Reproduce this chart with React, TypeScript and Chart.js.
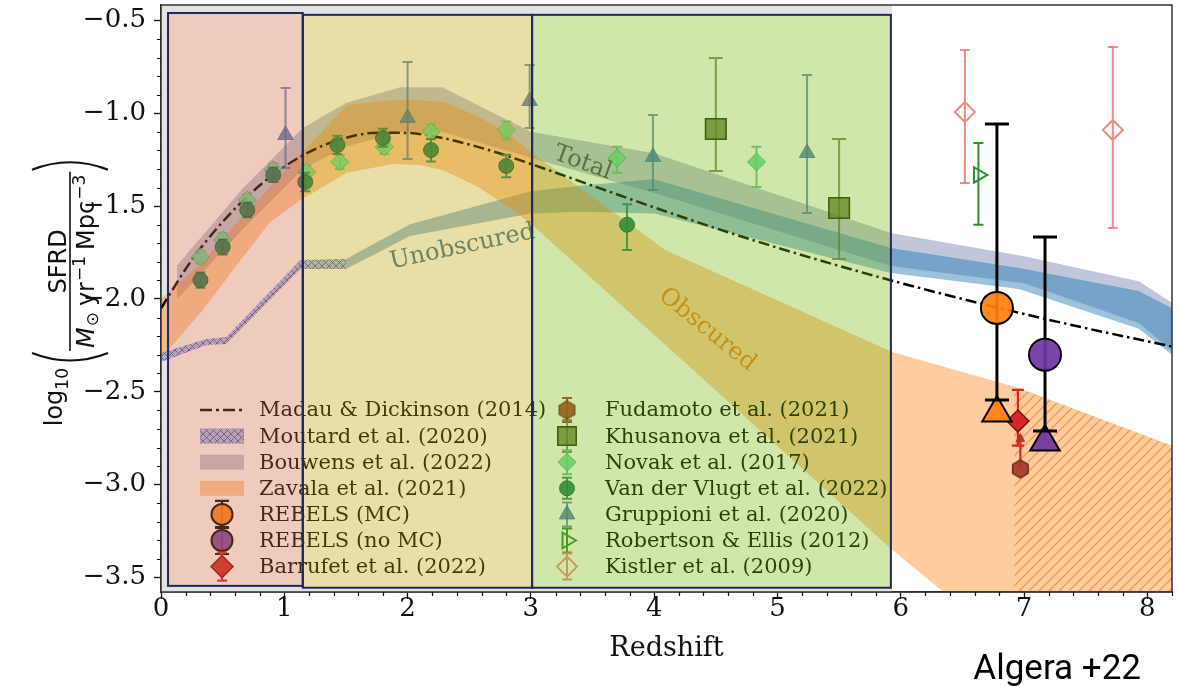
import React, { useEffect, useRef } from 'react';
import { Chart, registerables } from 'chart.js';
import { drawPoint } from 'chart.js/helpers';

Chart.register(...registerables);

const SERIF = '"DejaVu Serif", "Liberation Serif", serif';
const SANS = '"DejaVu Sans", "Liberation Sans", sans-serif';

// ---------- axes ----------
const zMin = 0;
const zMax = 8.2;
const sfrdMin = -3.578;
const sfrdMax = -0.417;
const xTitle = 'Redshift';
const creditText = 'Algera +22';

// ---------- Madau & Dickinson (2014) ----------
const mdZ = [0, 0.25, 0.5, 0.75, 1.0, 1.25, 1.5, 1.75, 2.0, 2.25, 2.5, 2.75, 3.0, 3.5, 4.0, 4.5, 5.0, 5.5, 6.0, 6.5, 7.0, 7.5, 8.0, 8.2];
const mdSfrd = [-2.05, -1.79, -1.585, -1.418, -1.288, -1.193, -1.132, -1.105, -1.106, -1.129, -1.168, -1.217, -1.273, -1.39, -1.507, -1.619, -1.724, -1.822, -1.914, -2.0, -2.081, -2.157, -2.228, -2.256];

// ---------- Bouwens et al. (2022), total ----------
const totalZ = [0.13, 0.67, 1.15, 1.5, 1.94, 2.28, 3.0, 4.0, 5.92, 7.0, 7.93, 8.2];
const totalHi = [-1.82, -1.4, -1.08, -0.945, -0.86, -0.86, -1.1, -1.215, -1.645, -1.77, -1.905, -2.02];
const totalLo = [-2.0, -1.62, -1.3, -1.18, -1.1, -1.1, -1.24, -1.43, -1.823, -1.915, -2.13, -2.28];

// ---------- unobscured (UV) ----------
const unobscZ = [1.5, 2.02, 3.0, 3.4, 4.0, 5.92, 6.96, 7.93, 8.2];
const unobscHi = [-1.785, -1.597, -1.42, -1.39, -1.355, -1.726, -1.833, -1.957, -2.05];
const unobscLo = [-1.839, -1.661, -1.54, -1.53, -1.54, -1.86, -1.946, -2.161, -2.3];

// ---------- Moutard et al. (2020) ----------
const moutardZ = [0.0, 0.37, 0.53, 1.13, 1.5];
const moutardHi = [-2.291, -2.215, -2.205, -1.79, -1.785];
const moutardLo = [-2.339, -2.248, -2.242, -1.838, -1.839];

// ---------- Zavala et al. (2021), obscured ----------
const zavalaZ = [0, 0.34, 0.6, 0.88, 1.13, 1.51, 1.88, 2.1, 2.3, 2.58, 2.85, 3.01, 4.09, 5.93, 6.35, 6.96, 8.2];
const zavalaHi = [-2.0, -1.8, -1.6, -1.4, -1.22, -0.955, -0.928, -0.93, -0.94, -1.02, -1.128, -1.214, -1.736, -2.285, -2.365, -2.48, -2.79];
const zavalaLo = [-2.32, -2.06, -1.83, -1.59, -1.467, -1.32, -1.273, -1.278, -1.31, -1.4, -1.52, -1.6, -2.247, -3.35, -3.58, -3.95, -4.7];
const zavalaExtZ = [6.92, 8.2];
const zavalaExtHi = [-2.473, -2.79];
const zavalaExtLo = [-3.7, -3.7];

// ---------- literature points ----------
const vdvZ = [0.32, 0.5, 0.7, 0.91, 1.17, 1.43, 1.8, 2.19, 2.8, 3.78];
const vdvSfrd = [-1.898, -1.72, -1.521, -1.332, -1.37, -1.171, -1.133, -1.198, -1.284, -1.6];
const vdvLo = [-1.94, -1.76, -1.56, -1.37, -1.42, -1.22, -1.18, -1.26, -1.345, -1.736];
const vdvHi = [-1.858, -1.68, -1.481, -1.292, -1.32, -1.121, -1.083, -1.138, -1.224, -1.49];

const novakZ = [0.32, 0.5, 0.7, 0.91, 1.18, 1.45, 1.81, 2.19, 2.8, 3.7, 4.83];
const novakSfrd = [-1.774, -1.682, -1.467, -1.305, -1.316, -1.262, -1.181, -1.1, -1.09, -1.241, -1.262];
const novakLo = [-1.81, -1.72, -1.5, -1.34, -1.35, -1.3, -1.22, -1.14, -1.14, -1.32, -1.397];
const novakHi = [-1.74, -1.645, -1.435, -1.27, -1.28, -1.225, -1.145, -1.06, -1.045, -1.18, -1.18];

const gruppioniZ = [1.01, 2.0, 2.99, 3.99, 5.24];
const gruppioniSfrd = [-1.117, -1.025, -0.934, -1.235, -1.214];
const gruppioniLo = [-1.295, -1.246, -1.08, -1.413, -1.537];
const gruppioniHi = [-0.864, -0.724, -0.74, -1.01, -0.794];

const khusanovaZ = [4.5, 5.5];
const khusanovaSfrd = [-1.085, -1.51];
const khusanovaLo = [-1.311, -1.785];
const khusanovaHi = [-0.702, -1.138];

const kistlerZ = [6.52, 7.72];
const kistlerSfrd = [-0.993, -1.09];
const kistlerLo = [-1.375, -1.618];
const kistlerHi = [-0.659, -0.643];

const robertsonZ = [6.63];
const robertsonSfrd = [-1.332];
const robertsonLo = [-1.6];
const robertsonHi = [-1.16];

const fudamotoZ = [6.97];
const fudamotoSfrd = [-2.915];
const fudamotoLimit = [-2.72];

const barrufetZ = [6.95];
const barrufetSfrd = [-2.657];
const barrufetLo = [-2.79];
const barrufetHi = [-2.49];

const rebelsMcZ = [6.78];
const rebelsMcSfrd = [-2.048];
const rebelsMcLo = [-2.544];
const rebelsMcHi = [-1.058];
const rebelsMcObscured = [-2.614];

const rebelsNoMcZ = [7.17];
const rebelsNoMcSfrd = [-2.3];
const rebelsNoMcLo = [-2.711];
const rebelsNoMcHi = [-1.666];
const rebelsNoMcObscured = [-2.77];

// ---------- band labels ----------
const bandLabels = ['Total', 'Unobscured', 'Obscured'];
const bandLabelZ = [3.42, 2.445, 4.43];
const bandLabelY = [-1.268, -1.72, -2.166];
const bandLabelAngle = [20, -12, 39];
const bandLabelColor = ['#4e4e4e', '#3a77a0', '#ee7d1e'];

// ---------- highlighted redshift windows ----------
const boxZ0 = [0.057, 1.15, 3.01];
const boxZ1 = [1.15, 3.01, 5.92];
const boxTop = [-0.46, -0.47, -0.47];
const boxBottom = [-3.545, -3.555, -3.555];
const boxFill = ['rgba(209,106,69,0.35)', 'rgba(192,161,0,0.35)', 'rgba(121,184,12,0.35)'];

// ---------- legend ----------
const legendLeft = ['Madau & Dickinson (2014)', 'Moutard et al. (2020)', 'Bouwens et al. (2022)', 'Zavala et al. (2021)', 'REBELS (MC)', 'REBELS (no MC)', 'Barrufet et al. (2022)'];
const legendRight = ['Fudamoto et al. (2021)', 'Khusanova et al. (2021)', 'Novak et al. (2017)', 'Van der Vlugt et al. (2022)', 'Gruppioni et al. (2020)', 'Robertson & Ellis (2012)', 'Kistler et al. (2009)'];

// ---------- styles ----------
const GRAY_BAND = 'rgba(95,105,160,0.38)';
const BLUE_BAND = 'rgba(31,119,180,0.45)';
const ORANGE_BAND = 'rgba(255,127,14,0.40)';
const MD_DASH = [11, 4, 2.5, 4];

const MK: any = {
  rebelsMC: { shape: 'circle', r: 16, legendR: 10.5, fill: 'rgba(255,127,14,0.92)', edge: '#000', edgeW: 2, err: '#000', errW: 3, cap: 12 },
  rebelsNoMC: { shape: 'circle', r: 16, legendR: 10.5, fill: 'rgba(112,52,162,0.92)', edge: '#000', edgeW: 2, err: '#000', errW: 3, cap: 12 },
  rebelsMCTri: { shape: 'triangle', r: 17, fill: 'rgba(255,127,14,0.92)', edge: '#000', edgeW: 2 },
  rebelsNoMCTri: { shape: 'triangle', r: 17, fill: 'rgba(112,52,162,0.92)', edge: '#000', edgeW: 2 },
  barrufet: { shape: 'rectRot', r: 11, legendR: 11, fill: '#d62728', edge: '#7a1010', edgeW: 1.5, err: '#d62728', errW: 2.2, cap: 6 },
  fudamoto: { shape: 'hex', r: 9, fill: 'rgba(165,55,40,0.92)', edge: '#5a1a10', edgeW: 1.2, err: '#b0392c', errW: 2.2, cap: 5 },
  khusanova: { shape: 'rect', r: 14.5, legendR: 13, fill: 'rgba(85,107,47,0.75)', edge: '#263010', edgeW: 1.6, err: 'rgba(85,107,47,0.75)', errW: 2, cap: 7 },
  novak: { shape: 'rectRot', r: 9, fill: 'rgba(95,220,150,0.85)', edge: 'rgba(60,185,110,0.9)', edgeW: 1, err: 'rgba(80,200,130,0.9)', errW: 2, cap: 5 },
  vdv: { shape: 'circle', r: 7.5, fill: 'rgba(22,120,80,0.92)', edge: 'rgba(15,95,60,0.95)', edgeW: 1, err: 'rgba(26,127,85,0.9)', errW: 2, cap: 5 },
  gruppioni: { shape: 'triangle', r: 9, fill: 'rgba(60,110,170,0.8)', edge: 'rgba(60,110,170,0.85)', edgeW: 1, err: 'rgba(60,110,170,0.75)', errW: 2, cap: 5 },
  robertson: { shape: 'triangle', rot: 90, r: 9, fill: 'rgba(0,0,0,0)', edge: '#2f8f2f', edgeW: 2, err: '#2f8f2f', errW: 2, cap: 5 },
  kistler: { shape: 'rectRot', r: 10, fill: 'rgba(0,0,0,0)', edge: '#f08c84', edgeW: 2, err: '#f08c84', errW: 2, cap: 5 },
};

const pts = (z: number[], y: number[]) => z.map((x, i) => ({ x, y: y[i] }));

function hexagonCanvas(st: any): HTMLCanvasElement {
  const s = Math.ceil(2 * st.r + 2 * st.edgeW + 2);
  const c = document.createElement('canvas');
  c.width = s;
  c.height = s;
  const g = c.getContext('2d')!;
  g.translate(s / 2, s / 2);
  g.beginPath();
  for (let k = 0; k < 6; k++) {
    const a = -Math.PI / 2 + (k * Math.PI) / 3;
    const px = st.r * Math.cos(a);
    const py = st.r * Math.sin(a);
    if (k === 0) g.moveTo(px, py);
    else g.lineTo(px, py);
  }
  g.closePath();
  g.fillStyle = st.fill;
  g.fill();
  g.strokeStyle = st.edge;
  g.lineWidth = st.edgeW;
  g.stroke();
  return c;
}

// cross-hatched fill used for the Moutard et al. band
function crossHatch(): CanvasPattern {
  const c = document.createElement('canvas');
  c.width = 7;
  c.height = 7;
  const g = c.getContext('2d')!;
  g.fillStyle = 'rgba(120,150,235,0.62)';
  g.fillRect(0, 0, 7, 7);
  g.strokeStyle = 'rgba(60,80,170,0.85)';
  g.lineWidth = 1;
  g.beginPath();
  g.moveTo(0, 0);
  g.lineTo(7, 7);
  g.moveTo(7, 0);
  g.lineTo(0, 7);
  g.stroke();
  return g.createPattern(c, 'repeat')!;
}

// single diagonal hatching for the extrapolated obscured band
function diagonalHatch(): CanvasPattern {
  const s = 10;
  const c = document.createElement('canvas');
  c.width = s;
  c.height = s;
  const g = c.getContext('2d')!;
  g.strokeStyle = 'rgba(240,135,50,0.75)';
  g.lineWidth = 1.3;
  g.beginPath();
  g.moveTo(-1, s + 1);
  g.lineTo(s + 1, -1);
  g.moveTo(-1, 1);
  g.lineTo(1, -1);
  g.moveTo(s - 1, s + 1);
  g.lineTo(s + 1, s - 1);
  g.stroke();
  return g.createPattern(c, 'repeat')!;
}

function markerDataset(label: string, z: number[], y: number[], st: any, extra: any = {}) {
  return {
    label,
    data: pts(z, y),
    showLine: false,
    pointStyle: st.canvas || st.shape,
    pointRadius: st.r,
    pointRotation: st.rot || 0,
    pointBackgroundColor: st.fill,
    pointBorderColor: st.edge,
    pointBorderWidth: st.edgeW,
    errColor: st.err,
    errWidth: st.errW,
    errCap: st.cap,
    ...extra,
  };
}

function drawMarker(ctx: CanvasRenderingContext2D, st: any, x: number, y: number, r: number) {
  if (st.canvas) {
    ctx.drawImage(st.canvas, x - st.canvas.width / 2, y - st.canvas.height / 2);
    return;
  }
  ctx.save();
  ctx.fillStyle = st.fill;
  ctx.strokeStyle = st.edge;
  ctx.lineWidth = st.edgeW;
  drawPoint(ctx, { pointStyle: st.shape, radius: r, rotation: st.rot || 0, borderWidth: st.edgeW } as any, x, y);
  ctx.restore();
}

// log10( SFRD / (M_sun yr^-1 Mpc^-3) ), written bottom-to-top
function drawYTitle(ctx: CanvasRenderingContext2D) {
  const centerY = 292;
  const baseX = 62;
  const barX = 70;
  const numBase = 66;
  const denBase = 94;
  const big = `24px ${SANS}`;
  const small = `17px ${SANS}`;
  const ital = `italic 24px ${SANS}`;
  ctx.save();
  ctx.fillStyle = '#111';
  ctx.strokeStyle = '#111';
  ctx.textAlign = 'left';
  ctx.textBaseline = 'alphabetic';
  const mw = (f: string, t: string) => {
    ctx.font = f;
    return ctx.measureText(t).width;
  };
  const wLog = mw(big, 'log');
  const wTen = mw(small, '10');
  const denParts = [
    { f: ital, t: 'M', dy: 0, pad: 0 },
    { f: small, t: '⊙', dy: 4, pad: 1 },
    { f: big, t: 'yr', dy: 0, pad: 6 },
    { f: small, t: '−1', dy: -9, pad: 1 },
    { f: big, t: 'Mpc', dy: 0, pad: 6 },
    { f: small, t: '−3', dy: -9, pad: 1 },
  ];
  let wDen = 0;
  denParts.forEach((p) => {
    wDen += p.pad + mw(p.f, p.t);
  });
  const wNum = mw(big, 'SFRD');
  const wFrac = Math.max(wDen, wNum) + 6;
  const parW = 12;
  const total = wLog + wTen + 3 + parW + 2 + wFrac + 2 + parW;
  ctx.rotate(-Math.PI / 2);
  const paren = (x0: number, left: boolean) => {
    ctx.lineWidth = 2;
    ctx.beginPath();
    if (left) {
      ctx.moveTo(x0 + parW, 32);
      ctx.quadraticCurveTo(x0 - 3, barX, x0 + parW, 108);
    } else {
      ctx.moveTo(x0, 32);
      ctx.quadraticCurveTo(x0 + parW + 3, barX, x0, 108);
    }
    ctx.stroke();
  };
  let lx = -centerY - total / 2;
  ctx.font = big;
  ctx.fillText('log', lx, baseX);
  lx += wLog;
  ctx.font = small;
  ctx.fillText('10', lx, baseX + 6);
  lx += wTen + 3;
  paren(lx, true);
  lx += parW + 2;
  ctx.font = big;
  ctx.fillText('SFRD', lx + (wFrac - wNum) / 2, numBase);
  ctx.lineWidth = 1.6;
  ctx.beginPath();
  ctx.moveTo(lx, barX);
  ctx.lineTo(lx + wFrac, barX);
  ctx.stroke();
  let dx = lx + (wFrac - wDen) / 2;
  denParts.forEach((p) => {
    dx += p.pad;
    ctx.font = p.f;
    ctx.fillText(p.t, dx, denBase + p.dy);
    dx += ctx.measureText(p.t).width;
  });
  lx += wFrac + 2;
  paren(lx, false);
  ctx.restore();
}

export default function App() {
  const canvasRef = useRef<HTMLCanvasElement | null>(null);

  useEffect(() => {
    const canvas = canvasRef.current;
    if (!canvas) return;
    MK.fudamoto.canvas = hexagonCanvas(MK.fudamoto);
    const moutardPattern = crossHatch();
    const zavalaHatch = diagonalHatch();

    const ds: any[] = [];
    const addBand = (z: number[], lo: number[], hi: number[], color: any) => {
      const iLo = ds.length;
      ds.push({ data: pts(z, lo), borderWidth: 0, pointRadius: 0, fill: false, tension: 0 });
      ds.push({ data: pts(z, hi), borderWidth: 0, pointRadius: 0, fill: iLo, backgroundColor: color, tension: 0 });
    };
    addBand(totalZ, totalLo, totalHi, GRAY_BAND);
    addBand(unobscZ, unobscLo, unobscHi, BLUE_BAND);
    addBand(moutardZ, moutardLo, moutardHi, moutardPattern);
    addBand(zavalaZ, zavalaLo, zavalaHi, ORANGE_BAND);
    addBand(zavalaExtZ, zavalaExtLo, zavalaExtHi, zavalaHatch);
    ds.push({
      label: legendLeft[0],
      data: pts(mdZ, mdSfrd),
      borderColor: '#000',
      borderWidth: 2.5,
      borderDash: MD_DASH,
      pointRadius: 0,
      fill: false,
      cubicInterpolationMode: 'monotone',
    });
    ds.push(markerDataset('Gruppioni', gruppioniZ, gruppioniSfrd, MK.gruppioni, { errLo: gruppioniLo, errHi: gruppioniHi }));
    ds.push(markerDataset('Novak', novakZ, novakSfrd, MK.novak, { errLo: novakLo, errHi: novakHi }));
    ds.push(markerDataset('Van der Vlugt', vdvZ, vdvSfrd, MK.vdv, { errLo: vdvLo, errHi: vdvHi }));
    ds.push(markerDataset('Khusanova', khusanovaZ, khusanovaSfrd, MK.khusanova, { errLo: khusanovaLo, errHi: khusanovaHi }));
    ds.push(markerDataset('Kistler', kistlerZ, kistlerSfrd, MK.kistler, { errLo: kistlerLo, errHi: kistlerHi }));
    ds.push(markerDataset('Robertson', robertsonZ, robertsonSfrd, MK.robertson, { errLo: robertsonLo, errHi: robertsonHi }));
    ds.push(markerDataset('Fudamoto', fudamotoZ, fudamotoSfrd, MK.fudamoto, { limitTo: fudamotoLimit }));
    ds.push(markerDataset('Barrufet', barrufetZ, barrufetSfrd, MK.barrufet, { errLo: barrufetLo, errHi: barrufetHi }));
    ds.push(markerDataset('REBELS MC obscured', rebelsMcZ, rebelsMcObscured, MK.rebelsMCTri));
    ds.push(markerDataset('REBELS noMC obscured', rebelsNoMcZ, rebelsNoMcObscured, MK.rebelsNoMCTri));
    ds.push(markerDataset('REBELS MC', rebelsMcZ, rebelsMcSfrd, MK.rebelsMC, { errLo: rebelsMcLo, errHi: rebelsMcHi }));
    ds.push(markerDataset('REBELS noMC', rebelsNoMcZ, rebelsNoMcSfrd, MK.rebelsNoMC, { errLo: rebelsNoMcLo, errHi: rebelsNoMcHi }));
    ds.forEach((d, i) => {
      d.order = ds.length - i;
    });

    const legendHandlesLeft: any[] = [
      { kind: 'line' },
      { kind: 'patch', fill: moutardPattern },
      { kind: 'patch', fill: GRAY_BAND },
      { kind: 'patch', fill: ORANGE_BAND },
      { kind: 'marker', st: MK.rebelsMC },
      { kind: 'marker', st: MK.rebelsNoMC },
      { kind: 'marker', st: MK.barrufet },
    ];
    const legendHandlesRight: any[] = [MK.fudamoto, MK.khusanova, MK.novak, MK.vdv, MK.gruppioni, MK.robertson, MK.kistler].map((st) => ({ kind: 'marker', st }));

    const backdrop = {
      id: 'backdrop',
      beforeDraw(chart: any) {
        const { ctx } = chart;
        ctx.save();
        ctx.fillStyle = '#fff';
        ctx.fillRect(0, 0, chart.width, chart.height);
        ctx.restore();
      },
      beforeDatasetsDraw(chart: any) {
        const { ctx, chartArea: a, scales } = chart;
        const xs = scales.x;
        const ys = scales.y;
        ctx.save();
        const gx1 = xs.getPixelForValue(boxZ1[2]) + 1;
        ctx.fillStyle = '#e3e3e3';
        ctx.fillRect(a.left, a.top, gx1 - a.left, a.bottom - a.top);
        ctx.fillStyle = '#fff';
        for (let i = 0; i < boxZ0.length; i++) {
          const x0 = xs.getPixelForValue(boxZ0[i]);
          const x1 = xs.getPixelForValue(boxZ1[i]);
          const y0 = ys.getPixelForValue(boxTop[i]);
          const y1 = ys.getPixelForValue(boxBottom[i]);
          ctx.fillRect(x0, y0, x1 - x0, y1 - y0);
        }
        ctx.restore();
      },
    };

    const errorBars = {
      id: 'errorBars',
      beforeDatasetDraw(chart: any, args: any) {
        const d: any = chart.data.datasets[args.index];
        if (!d.errLo && !d.limitTo) return;
        const { ctx, scales } = chart;
        const xs = scales.x;
        const ys = scales.y;
        ctx.save();
        ctx.strokeStyle = d.errColor;
        ctx.fillStyle = d.errColor;
        ctx.lineWidth = d.errWidth;
        d.data.forEach((p: any, i: number) => {
          const px = xs.getPixelForValue(p.x);
          if (d.errLo) {
            const y0 = ys.getPixelForValue(d.errLo[i]);
            const y1 = ys.getPixelForValue(d.errHi[i]);
            ctx.beginPath();
            ctx.moveTo(px, y0);
            ctx.lineTo(px, y1);
            ctx.moveTo(px - d.errCap, y0);
            ctx.lineTo(px + d.errCap, y0);
            ctx.moveTo(px - d.errCap, y1);
            ctx.lineTo(px + d.errCap, y1);
            ctx.stroke();
          }
          if (d.limitTo) {
            const y0 = ys.getPixelForValue(p.y);
            const y1 = ys.getPixelForValue(d.limitTo[i]);
            ctx.beginPath();
            ctx.moveTo(px, y0);
            ctx.lineTo(px, y1 + 6);
            ctx.stroke();
            ctx.beginPath();
            ctx.moveTo(px, y1);
            ctx.lineTo(px - 5, y1 + 9);
            ctx.lineTo(px + 5, y1 + 9);
            ctx.closePath();
            ctx.fill();
          }
        });
        ctx.restore();
      },
    };

    const overlay = {
      id: 'overlay',
      afterDatasetsDraw(chart: any) {
        const { ctx, chartArea: a, scales } = chart;
        const xs = scales.x;
        const ys = scales.y;
        ctx.save();
        // labels on the bands
        bandLabels.forEach((t, i) => {
          ctx.save();
          ctx.translate(xs.getPixelForValue(bandLabelZ[i]), ys.getPixelForValue(bandLabelY[i]));
          ctx.rotate((bandLabelAngle[i] * Math.PI) / 180);
          ctx.font = `24px ${SERIF}`;
          ctx.fillStyle = bandLabelColor[i];
          ctx.textAlign = 'center';
          ctx.textBaseline = 'middle';
          ctx.fillText(t, 0, 0);
          ctx.restore();
        });

        // legend, two columns
        const rowY0 = a.bottom - 182;
        const rowGap = 26.1;
        const cols = [
          { hx: a.left + 61, tx: a.left + 98, labels: legendLeft, handles: legendHandlesLeft },
          { hx: a.left + 406, tx: a.left + 444, labels: legendRight, handles: legendHandlesRight },
        ];
        cols.forEach((col) => {
          col.labels.forEach((label, i) => {
            const y = rowY0 + i * rowGap;
            const h = col.handles[i];
            if (h.kind === 'line') {
              ctx.save();
              ctx.strokeStyle = '#000';
              ctx.lineWidth = 2.5;
              ctx.setLineDash([12, 4, 3, 4]);
              ctx.beginPath();
              ctx.moveTo(col.hx - 22, y);
              ctx.lineTo(col.hx + 22, y);
              ctx.stroke();
              ctx.restore();
            } else if (h.kind === 'patch') {
              ctx.fillStyle = h.fill;
              ctx.fillRect(col.hx - 22, y - 7.5, 44, 15);
            } else {
              const st = h.st;
              const r = st.legendR || st.r;
              if (st.err) {
                ctx.save();
                ctx.strokeStyle = st.err;
                ctx.lineWidth = Math.min(st.errW, 2.2);
                const e = r + 3;
                const cap = st.err === '#000' ? 7 : 5;
                ctx.beginPath();
                ctx.moveTo(col.hx, y - e);
                ctx.lineTo(col.hx, y + e);
                ctx.moveTo(col.hx - cap, y - e);
                ctx.lineTo(col.hx + cap, y - e);
                ctx.moveTo(col.hx - cap, y + e);
                ctx.lineTo(col.hx + cap, y + e);
                ctx.stroke();
                ctx.restore();
              }
              drawMarker(ctx, st, col.hx, y, r);
            }
            ctx.font = `21px ${SERIF}`;
            ctx.fillStyle = '#000';
            ctx.textAlign = 'left';
            ctx.textBaseline = 'middle';
            ctx.fillText(label, col.tx, y + 1);
          });
        });

        // highlighted redshift windows
        const rects = boxZ0.map((z0, i) => {
          const x0 = xs.getPixelForValue(z0);
          const x1 = xs.getPixelForValue(boxZ1[i]);
          const y0 = ys.getPixelForValue(boxTop[i]);
          const y1 = ys.getPixelForValue(boxBottom[i]);
          return [x0, y0, x1 - x0, y1 - y0];
        });
        rects.forEach((r, i) => {
          ctx.fillStyle = boxFill[i];
          ctx.fillRect(r[0], r[1], r[2], r[3]);
        });
        ctx.strokeStyle = '#23265a';
        ctx.lineWidth = 2;
        rects.forEach((r) => ctx.strokeRect(r[0], r[1], r[2], r[3]));

        // axes frame
        ctx.strokeStyle = '#333';
        ctx.lineWidth = 1.5;
        ctx.strokeRect(a.left, a.top, a.right - a.left, a.bottom - a.top);
        ctx.restore();
      },
      afterDraw(chart: any) {
        const { ctx, chartArea: a, scales } = chart;
        const xs = scales.x;
        const ys = scales.y;
        ctx.save();
        // minor ticks
        ctx.strokeStyle = '#111';
        ctx.lineWidth = 1.2;
        ctx.beginPath();
        for (let k = 1; k * 0.2 <= zMax + 1e-9; k++) {
          if (k % 5 === 0) continue;
          const px = Math.round(xs.getPixelForValue(k * 0.2)) + 0.5;
          ctx.moveTo(px, a.bottom);
          ctx.lineTo(px, a.bottom + 4);
        }
        for (let k = -35; k <= -5; k++) {
          if (k % 5 === 0) continue;
          const py = Math.round(ys.getPixelForValue(k / 10)) + 0.5;
          ctx.moveTo(a.left, py);
          ctx.lineTo(a.left - 4, py);
        }
        ctx.stroke();
        // axis titles
        ctx.fillStyle = '#111';
        ctx.font = `27px ${SERIF}`;
        ctx.textAlign = 'center';
        ctx.textBaseline = 'alphabetic';
        ctx.fillText(xTitle, (a.left + a.right) / 2, 656);
        drawYTitle(ctx);
        ctx.fillStyle = '#000';
        ctx.font = `35px Roboto, "Liberation Sans", sans-serif`;
        ctx.textAlign = 'right';
        ctx.fillText(creditText, 1141, 679);
        ctx.restore();
      },
    };

    const tickFont = { family: SERIF, size: 26 };
    const chart = new Chart(canvas, {
      type: 'line',
      data: { datasets: ds },
      options: {
        responsive: false,
        animation: false,
        devicePixelRatio: 1,
        events: [],
        layout: { autoPadding: false, padding: { top: 5, right: 6, bottom: 0, left: 0 } },
        plugins: { legend: { display: false }, tooltip: { enabled: false } },
        scales: {
          x: {
            type: 'linear',
            min: zMin,
            max: zMax,
            afterFit: (s: any) => {
              s.height = 94;
              s.paddingLeft = 0;
              s.paddingRight = 0;
            },
            ticks: {
              stepSize: 1,
              includeBounds: false,
              autoSkip: false,
              maxRotation: 0,
              font: tickFont,
              color: '#111',
              padding: -5,
              callback: (v: any) => String(Math.round(v)),
            },
            grid: { display: true, drawOnChartArea: false, drawTicks: true, tickLength: 7, tickWidth: 1.3, tickColor: '#111' },
            border: { display: true, color: '#222', width: 1.5 },
          },
          y: {
            type: 'linear',
            min: sfrdMin,
            max: sfrdMax,
            afterFit: (s: any) => {
              s.width = 161;
              s.paddingTop = 0;
              s.paddingBottom = 0;
            },
            ticks: {
              stepSize: 0.5,
              includeBounds: false,
              autoSkip: false,
              font: tickFont,
              color: '#111',
              padding: 8,
              callback: (v: any) => (Math.round(v * 10) / 10).toFixed(1).replace('-', '\u2212'),
            },
            grid: { display: true, drawOnChartArea: false, drawTicks: true, tickLength: 7, tickWidth: 1.3, tickColor: '#111' },
            border: { display: true, color: '#222', width: 1.5 },
          },
        },
      } as any,
      plugins: [backdrop, errorBars, overlay],
    } as any);
    return () => chart.destroy();
  }, []);

  return (
    <canvas
      ref={canvasRef}
      width={1178}
      height={686}
      style={{ position: 'fixed', left: 0, top: 0, width: '1178px', height: '686px' }}
    />
  );
}
